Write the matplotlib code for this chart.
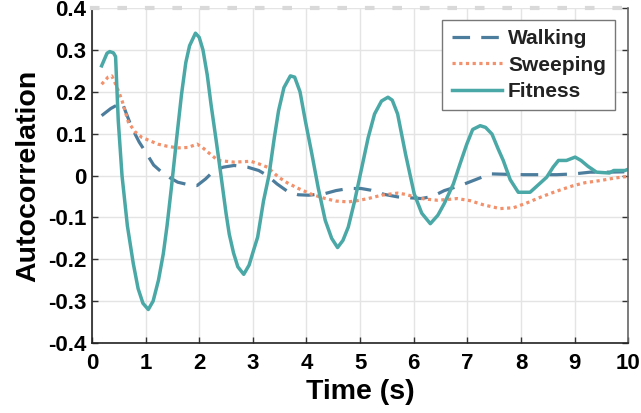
import matplotlib.pyplot as plt

plt.rcParams['font.family'] = ['Liberation Sans', 'DejaVu Sans']
plt.rcParams['font.weight'] = 'bold'

# autocorrelation readings (time in s, value)
fit_t = [0.18, 0.28, 0.33, 0.40, 0.44, 0.49, 0.56, 0.66, 0.77, 0.86, 0.95, 1.05, 1.14, 1.24,
         1.33, 1.40, 1.48, 1.58, 1.67, 1.75, 1.82, 1.93, 2.00, 2.07, 2.15, 2.22, 2.32, 2.41,
         2.50, 2.56, 2.64, 2.72, 2.83, 2.93, 3.01, 3.09, 3.20, 3.30, 3.40, 3.48, 3.58, 3.70,
         3.78, 3.88, 3.98, 4.10, 4.22, 4.35, 4.47, 4.58, 4.68, 4.78, 4.90, 5.02, 5.15, 5.27,
         5.40, 5.52, 5.60, 5.70, 5.85, 6.01, 6.15, 6.31, 6.45, 6.57, 6.74, 6.87, 6.99, 7.10,
         7.24, 7.34, 7.46, 7.57, 7.67, 7.80, 7.95, 8.17, 8.30, 8.48, 8.60, 8.70, 8.85, 9.01,
         9.12, 9.25, 9.41, 9.65, 9.73, 9.94, 10.0]
fit_v = [0.262, 0.292, 0.296, 0.293, 0.284, 0.131, 0.0, -0.12, -0.21, -0.27, -0.305, -0.32,
         -0.30, -0.25, -0.187, -0.12, -0.03, 0.09, 0.194, 0.27, 0.31, 0.34, 0.33, 0.30, 0.24,
         0.17, 0.08, -0.004, -0.09, -0.14, -0.185, -0.218, -0.236, -0.214, -0.18, -0.147,
         -0.06, 0.0, 0.09, 0.155, 0.21, 0.238, 0.235, 0.20, 0.13, 0.052, -0.03, -0.107, -0.15,
         -0.172, -0.155, -0.123, -0.06, 0.012, 0.09, 0.147, 0.178, 0.187, 0.18, 0.147, 0.05,
         -0.044, -0.09, -0.115, -0.095, -0.067, -0.02, 0.03, 0.075, 0.11, 0.119, 0.115, 0.099,
         0.065, 0.036, -0.01, -0.04, -0.04, -0.025, -0.004, 0.02, 0.036, 0.036, 0.044, 0.036,
         0.022, 0.008, 0.006, 0.012, 0.012, 0.015]

walk_t = [0.18, 0.35, 0.56, 0.74, 0.88, 1.02, 1.15, 1.30, 1.45, 1.60, 1.80, 1.96, 2.12, 2.28,
          2.45, 2.65, 2.90, 3.11, 3.27, 3.45, 3.67, 3.85, 4.04, 4.35, 4.55, 4.78, 5.02, 5.20,
          5.45, 5.70, 5.90, 6.14, 6.35, 6.57, 6.87, 7.15, 7.43, 7.70, 8.05, 8.67, 9.00, 9.29,
          9.60, 10.0]
walk_v = [0.143, 0.16, 0.175, 0.115, 0.08, 0.052, 0.025, 0.008, -0.005, -0.016, -0.022,
          -0.024, -0.008, 0.012, 0.02, 0.024, 0.02, 0.012, 0.0, -0.02, -0.04, -0.046, -0.047,
          -0.043, -0.036, -0.031, -0.031, -0.035, -0.045, -0.051, -0.053, -0.055, -0.05,
          -0.036, -0.024, -0.01, 0.004, 0.003, 0.002, 0.002, 0.004, 0.008, 0.008, 0.009]

sweep_t = [0.18, 0.30, 0.37, 0.47, 0.56, 0.68, 0.80, 0.93, 1.08, 1.23, 1.40, 1.60, 1.79, 1.96,
           2.06, 2.16, 2.35, 2.65, 2.96, 3.11, 3.27, 3.48, 3.65, 3.85, 4.10, 4.35, 4.55, 4.78,
           4.95, 5.15, 5.40, 5.70, 5.85, 6.01, 6.20, 6.44, 6.65, 6.81, 7.05, 7.30, 7.61, 7.86,
           8.10, 8.36, 8.65, 8.98, 9.20, 9.48, 9.75, 10.0]
sweep_v = [0.218, 0.235, 0.238, 0.21, 0.179, 0.127, 0.105, 0.091, 0.083, 0.075, 0.07, 0.066,
           0.067, 0.075, 0.067, 0.056, 0.036, 0.032, 0.034, 0.028, 0.02, -0.004, -0.018,
           -0.031, -0.045, -0.055, -0.061, -0.063, -0.06, -0.055, -0.047, -0.042, -0.045,
           -0.051, -0.056, -0.059, -0.057, -0.055, -0.06, -0.07, -0.079, -0.077, -0.066,
           -0.052, -0.038, -0.024, -0.017, -0.012, -0.006, -0.002]

x_ticks = list(range(0, 11))
y_ticks = [-0.4, -0.3, -0.2, -0.1, 0, 0.1, 0.2, 0.3, 0.4]
y_labels = ['-0.4', '-0.3', '-0.2', '-0.1', '0', '0.1', '0.2', '0.3', '0.4']

fig = plt.figure(figsize=(6.41, 4.13), dpi=100)
ax = fig.add_axes([0.1435, 0.1695, 0.8365, 0.811])

ax.plot(walk_t, walk_v, color='#4d7d9d', lw=2.3, linestyle=(0, (5.5, 3.5)), label='Walking')
ax.plot(sweep_t, sweep_v, color='#f2916b', lw=2.3, linestyle=(0, (1, 1.1)), label='Sweeping')
ax.plot(fit_t, fit_v, color='#4aa8a6', lw=2.5, label='Fitness')

ax.set_xlim(0, 10)
ax.set_ylim(-0.4, 0.4)
ax.set_xticks(x_ticks)
ax.set_yticks(y_ticks)
ax.set_yticklabels(y_labels)
ax.grid(True, color='#e4e4e4', lw=1)
ax.set_axisbelow(True)
ax.tick_params(direction='in', length=4.5, width=1, labelsize=16, right=True, pad=4,
               color='#333333')
ax.tick_params(axis='x', pad=7)

for s in ['left', 'bottom']:
    ax.spines[s].set_color('#222222')
    ax.spines[s].set_linewidth(1.2)
ax.spines['right'].set_color('#666666')
ax.spines['right'].set_linewidth(1.2)
ax.spines['top'].set_color('#d9d9d9')
ax.spines['top'].set_linewidth(3)
ax.spines['top'].set_linestyle((0, (1.3, 5.3)))

ax.set_xlabel('Time (s)', fontsize=20.5, fontweight='bold', labelpad=4)
ax.set_ylabel('Autocorrelation', fontsize=20.5, fontweight='bold', labelpad=5)

leg = ax.legend(loc='upper right', bbox_to_anchor=(0.976, 0.964), borderaxespad=0,
                fancybox=False, edgecolor='#777777', framealpha=1, fontsize=15,
                handlelength=2.4, handletextpad=0.3, labelspacing=0.35, borderpad=0.45)
leg.get_frame().set_linewidth(1)
for t in leg.get_texts():
    t.set_color('#222222')

fig.savefig('out.png', dpi=100)
